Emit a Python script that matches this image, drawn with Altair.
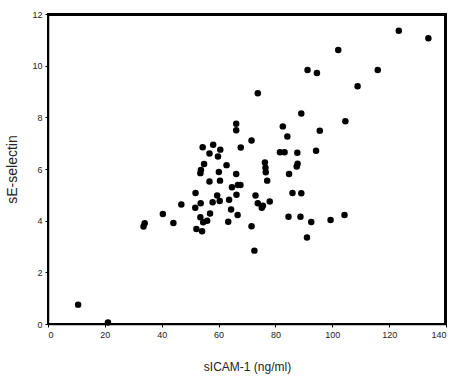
import altair as alt
import pandas as pd

sicam = [10.6, 21.1, 33.6, 34.0, 40.4, 44.1, 46.9, 51.9, 51.8, 52.2,
         53.6, 53.8, 53.7, 53.6, 54.2, 54.4, 54.9, 54.6, 56.0, 56.8,
         56.8, 57.0, 58.1, 57.9, 59.8, 60.1, 59.5, 60.4, 60.6, 60.5,
         62.8, 63.4, 63.7, 64.4, 64.7, 66.2, 66.2, 66.2, 66.3, 66.7,
         66.8, 67.7, 67.8, 71.6, 71.6, 72.6, 73.0, 73.8, 73.8, 75.2,
         75.6, 76.3, 76.5, 76.6, 77.1, 78.0, 81.6, 82.6, 83.2, 84.2,
         84.8, 84.6, 86.0, 87.7, 87.5, 87.8, 89.1, 89.1, 88.8, 91.1,
         91.3, 92.6, 94.3, 94.6, 95.6, 99.4, 102.1, 104.3, 104.6, 108.9,
         116.0, 123.4, 133.8]
seselectin = [0.75, 0.06, 3.77, 3.9, 4.26, 3.91, 4.63, 5.07, 4.5, 3.68,
              5.84, 5.96, 4.67, 4.13, 3.59, 6.84, 6.19, 3.94, 4.0, 6.6,
              5.52, 4.28, 6.94, 4.71, 6.48, 5.88, 4.97, 4.76, 6.75, 5.55,
              6.15, 3.96, 4.81, 4.43, 5.29, 7.75, 7.5, 5.81, 5.0, 4.22,
              5.38, 5.38, 6.83, 7.1, 3.78, 2.84, 4.97, 8.93, 4.67, 4.5,
              4.58, 6.25, 6.05, 5.87, 5.55, 4.74, 6.65, 7.65, 6.65, 7.26,
              5.81, 4.15, 5.07, 6.63, 6.1, 6.2, 5.06, 8.15, 4.15, 3.35,
              9.83, 3.95, 6.71, 9.72, 7.48, 4.03, 10.61, 4.22, 7.85, 9.2,
              9.83, 11.35, 11.06]

df = pd.DataFrame({"sICAM": sicam, "sE": seselectin})

xscale = alt.Scale(domain=[0, 140], nice=False, zero=False)
yscale = alt.Scale(domain=[0, 12], nice=False, zero=False)

points = alt.Chart(df).mark_circle(size=42, color="black", opacity=1).encode(
    x=alt.X("sICAM:Q", title="sICAM-1 (ng/ml)", scale=xscale,
            axis=alt.Axis(values=[0, 20, 40, 60, 80, 100, 120, 140], grid=False,
                          domainColor="black", domainWidth=1.5, tickColor="black",
                          tickSize=3, labelFontSize=9, labelColor="#222",
                          labelFont="Liberation Sans", titleFont="Liberation Sans",
                          titleFontSize=12, titleFontWeight="normal", titleColor="#222",
                          titlePadding=22, labelPadding=3)),
    y=alt.Y("sE:Q", title="sE-selectin", scale=yscale,
            axis=alt.Axis(values=[0, 2, 4, 6, 8, 10, 12], grid=False,
                          domainColor="black", domainWidth=1.5, tickColor="black",
                          tickSize=3, labelFontSize=9, labelColor="#222",
                          labelFont="Liberation Sans", titleFont="Liberation Sans",
                          titleFontSize=14, titleFontWeight="normal", titleColor="#222",
                          titlePadding=12, labelPadding=3)),
)

frame = alt.Chart(df).mark_rule(color="black", strokeWidth=2).encode(
    x=alt.value(0), x2=alt.value({"expr": "width"}),
    y=alt.value(1),
) + alt.Chart(df).mark_rule(color="black", strokeWidth=2).encode(
    x=alt.value({"expr": "width - 1"}),
    y=alt.value(0), y2=alt.value({"expr": "height"}),
)

chart = alt.layer(points, frame).properties(
    width=398, height=310,
    padding={"left": 48, "top": 14, "right": 9, "bottom": 55},
    autosize=alt.AutoSizeParams(type="none"),
    background="white",
).configure_view(stroke="black", strokeWidth=2)

chart.save("out.html", embed_options={"renderer": "svg", "actions": False})
